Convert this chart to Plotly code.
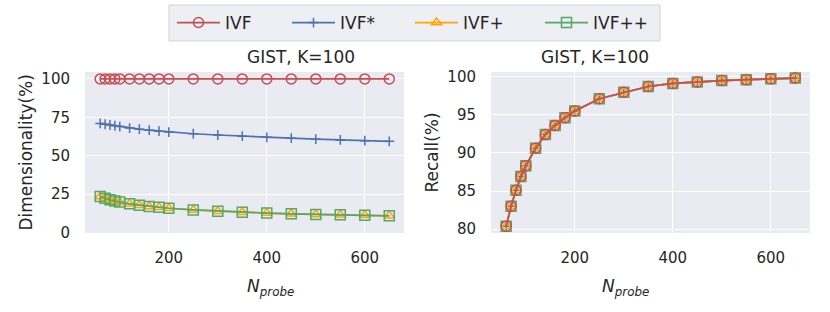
import plotly.graph_objects as go

# ---- data ----
nprobe = [60, 70, 80, 90, 100, 120, 140, 160, 180, 200, 250, 300, 350, 400, 450, 500, 550, 600, 650]

dim_ivf = [100] * 19
dim_ivf_star = [71.0, 70.5, 70.0, 69.5, 69.0, 68.0, 67.3, 66.6, 66.0, 65.4, 64.3, 63.5, 62.7, 62.0, 61.4, 60.8, 60.3, 59.8, 59.4]
dim_ivf_plus = [23.5, 22.3, 21.3, 20.5, 19.8, 18.7, 17.8, 17.0, 16.4, 15.8, 14.7, 13.9, 13.2, 12.7, 12.2, 11.8, 11.5, 11.2, 10.9]
dim_ivf_pp = [23.5, 22.3, 21.3, 20.5, 19.8, 18.7, 17.8, 17.0, 16.4, 15.8, 14.7, 13.9, 13.2, 12.7, 12.2, 11.8, 11.5, 11.2, 10.9]

recall = [80.4, 83.0, 85.1, 86.9, 88.3, 90.6, 92.4, 93.6, 94.6, 95.5, 97.1, 97.95, 98.7, 99.1, 99.3, 99.48, 99.6, 99.7, 99.8]

x_ticks = [200, 400, 600]
y_ticks_left = [0, 25, 50, 75, 100]
y_ticks_right = [80, 85, 90, 95, 100]

names = ["IVF", "IVF*", "IVF+", "IVF++"]
colors = ["#C44E52", "#4C72B0", "#FFA500", "#55A868"]
symbols = ["circle-open", "cross-thin-open", "triangle-up-open", "square-open"]
sizes = [10, 7, 9, 10]

W, H = 830, 312
FONT = "DejaVu Sans"
TXT = "#262626"

def px_x(p):
    return p / W

def px_y(p):
    return 1 - p / H

legend_ids = ["legend", "legend2", "legend3", "legend4"]
legend_x = [172, 287, 410, 540]   # pixel start of each legend entry

fig = go.Figure()

def add(x, y, i, xa, ya, show):
    fig.add_trace(go.Scatter(
        x=x, y=y, mode="lines+markers", name=names[i],
        line=dict(color=colors[i], width=1.7),
        marker=dict(symbol=symbols[i], size=sizes[i], color=colors[i],
                    line=dict(color=colors[i], width=1.5)),
        xaxis=xa, yaxis=ya, showlegend=show, legend=legend_ids[i],
    ))

left_data = [dim_ivf, dim_ivf_star, dim_ivf_plus, dim_ivf_pp]
for i in range(4):
    add(nprobe, left_data[i], i, "x", "y", True)
for i in [1, 3, 2, 0]:
    add(nprobe, recall, i, "x2", "y2", False)

xdom1 = [px_x(85), px_x(404)]
xdom2 = [px_x(491), px_x(810)]
ydom = [px_y(233), px_y(72)]

axis_common = dict(
    showgrid=True, gridcolor="white", gridwidth=1.3, zeroline=False,
    showline=False, ticks="", automargin=False,
    tickfont=dict(family=FONT, size=15, color=TXT),
)

layout = dict(
    width=W, height=H,
    margin=dict(l=0, r=0, t=0, b=0, autoexpand=False),
    paper_bgcolor="white", plot_bgcolor="#EAEAF2",
    font=dict(family=FONT, color=TXT),
    xaxis=dict(domain=xdom1, anchor="y", range=[29, 680], tickvals=x_ticks, ticklabelstandoff=14, **axis_common),
    yaxis=dict(domain=ydom, anchor="x", range=[-0.3, 104.5], tickvals=y_ticks_left, ticklabelstandoff=14, **axis_common),
    xaxis2=dict(domain=xdom2, anchor="y2", range=[29, 680], tickvals=x_ticks, ticklabelstandoff=14, **axis_common),
    yaxis2=dict(domain=ydom, anchor="x2", range=[79.5, 100.6], tickvals=y_ticks_right, ticklabelstandoff=14, **axis_common),
    shapes=[dict(type="rect", xref="paper", yref="paper",
                 x0=px_x(169), x1=px_x(660), y0=px_y(41), y1=px_y(5),
                 fillcolor="#EEEEF5", line=dict(color="#D2D2D6", width=1), layer="below")],
)

for i, lid in enumerate(legend_ids):
    layout[lid] = dict(orientation="h", x=px_x(legend_x[i]), xanchor="left",
                       y=px_y(23), yanchor="middle", bgcolor="rgba(0,0,0,0)",
                       borderwidth=0, font=dict(family=FONT, size=17, color=TXT),
                       itemwidth=43)

sub_title_font = dict(family=FONT, size=17, color=TXT)
xtitle_text = "<i>N</i><sub><i>probe</i></sub>"
layout["annotations"] = [
    dict(text="GIST, K=100", x=(xdom1[0] + xdom1[1]) / 2, y=px_y(57), xref="paper", yref="paper",
         showarrow=False, font=sub_title_font, yanchor="middle"),
    dict(text="GIST, K=100", x=(xdom2[0] + xdom2[1]) / 2, y=px_y(57), xref="paper", yref="paper",
         showarrow=False, font=sub_title_font, yanchor="middle"),
    dict(text=xtitle_text, x=(xdom1[0] + xdom1[1]) / 2, y=px_y(287), xref="paper", yref="paper",
         showarrow=False, font=sub_title_font, yanchor="middle"),
    dict(text=xtitle_text, x=(xdom2[0] + xdom2[1]) / 2, y=px_y(287), xref="paper", yref="paper",
         showarrow=False, font=sub_title_font, yanchor="middle"),
    dict(text="Dimensionality(%)", x=px_x(25), y=px_y(152.5), xref="paper", yref="paper",
         showarrow=False, font=sub_title_font, textangle=-90, xanchor="center", yanchor="middle"),
    dict(text="Recall(%)", x=px_x(431), y=px_y(152.5), xref="paper", yref="paper",
         showarrow=False, font=sub_title_font, textangle=-90, xanchor="center", yanchor="middle"),
]

fig.update_layout(**layout)
fig.write_html("out.html", config={"displayModeBar": False},
               post_script="document.body.style.margin='0';document.body.style.padding='0';")
